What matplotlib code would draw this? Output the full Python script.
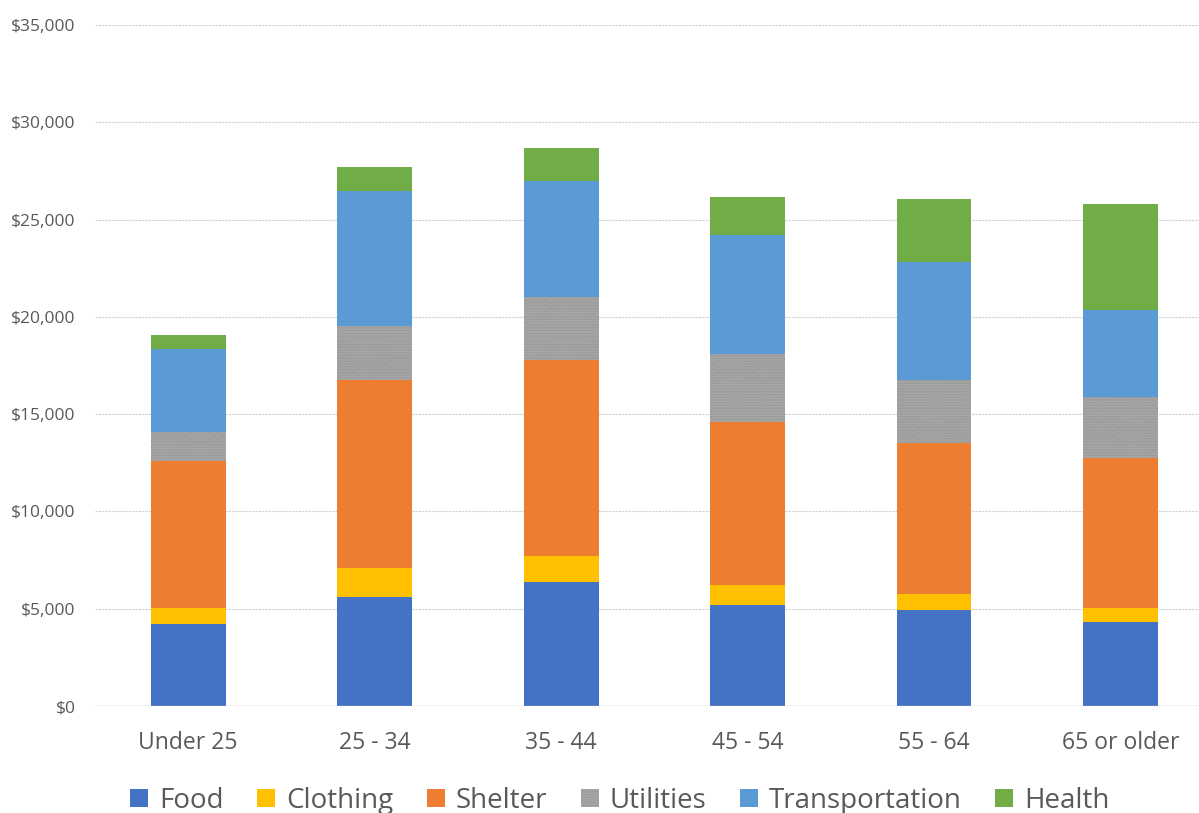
import matplotlib.pyplot as plt
import numpy as np
from matplotlib.ticker import FuncFormatter

# annual spending by age of householder, in dollars
age_groups = ["Under 25", "25 - 34", "35 - 44", "45 - 54", "55 - 64", "65 or older"]
food           = [4200, 5600, 6370, 5190, 4930, 4320]
clothing       = [840, 1490, 1340, 1030, 830, 720]
shelter        = [7560, 9660, 10070, 8370, 7760, 7700]
utilities      = [1480, 2780, 3240, 3500, 3230, 3140]
transportation = [4270, 6930, 5960, 6110, 6070, 4470]
health         = [720, 1240, 1690, 1960, 3230, 5450]

categories = ["Food", "Clothing", "Shelter", "Utilities", "Transportation", "Health"]
series = [food, clothing, shelter, utilities, transportation, health]
colors = ["#4472C4", "#FFC000", "#ED7D31", "#A5A5A5", "#5B9BD5", "#70AD47"]

plt.rcParams["font.family"] = ["Open Sans", "DejaVu Sans"]
plt.rcParams["hatch.linewidth"] = 0.4

fig = plt.figure(figsize=(11.99, 8.13), dpi=100)
ax = fig.add_axes([95 / 1199, 107 / 813, 1104 / 1199, 681 / 813])

x = np.arange(len(age_groups))
bottom = np.zeros(len(age_groups))
handles = []
for name, vals, col in zip(categories, series, colors):
    if name == "Utilities":
        b = ax.bar(x, vals, 0.40, bottom=bottom, color=col, hatch="......",
                   edgecolor="#8c8c8c", linewidth=0, label=name, zorder=3)
    else:
        b = ax.bar(x, vals, 0.40, bottom=bottom, color=col, linewidth=0,
                   label=name, zorder=3)
    handles.append(b)
    bottom += np.array(vals)

ax.set_xlim(-0.5, 5.42)
ax.set_ylim(0, 35000)
ax.set_yticks(np.arange(0, 35001, 5000))
ax.yaxis.set_major_formatter(FuncFormatter(lambda v, _: f"${v:,.0f}"))
ax.grid(axis="y", color="#d0d0d0", linestyle=(0, (2, 1)), linewidth=0.8, zorder=0)
ax.axhline(0, color="#c8c8c8", linewidth=1, zorder=4)

for s in ax.spines.values():
    s.set_visible(False)
ax.tick_params(axis="both", length=0)
ax.tick_params(axis="y", labelsize=12.5, labelcolor="#595959", pad=14)
ax.set_xticks(x)
ax.set_xticklabels(age_groups, fontsize=16.5, color="#595959")
ax.tick_params(axis="x", pad=18)

fig.legend(handles=handles, labels=categories, loc="center", bbox_to_anchor=(0.517, 0.015),
           ncol=6, frameon=False, fontsize=20, labelcolor="#595959",
           handlelength=0.65, handleheight=0.65, handletextpad=0.4, columnspacing=1.2)

fig.savefig("out.png", dpi=100)
